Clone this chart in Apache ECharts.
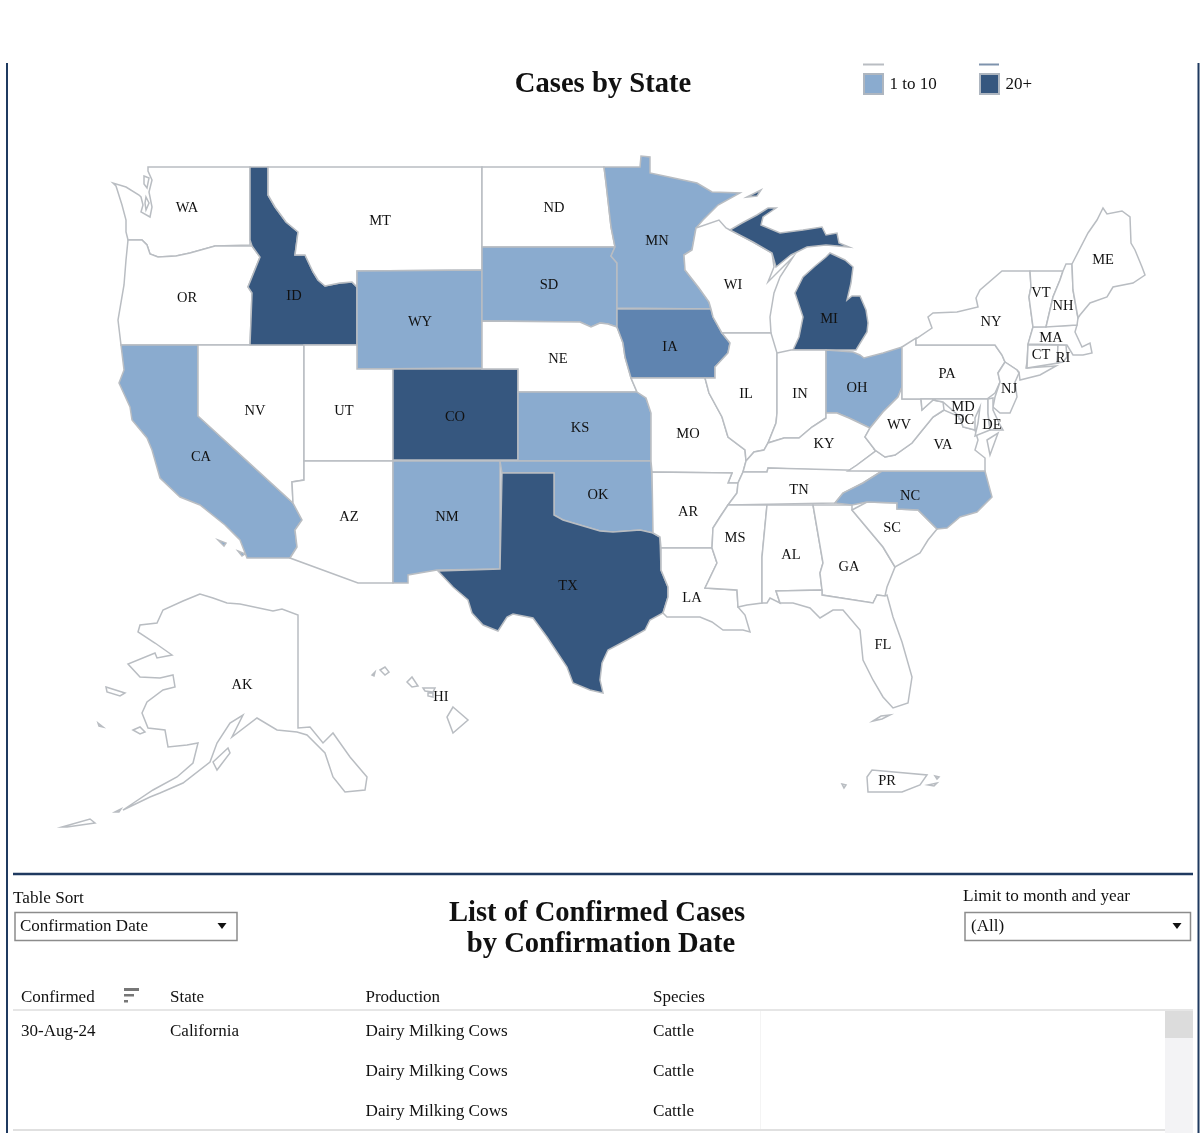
<!DOCTYPE html>
<html>
<head>
<meta charset="utf-8">
<title>Cases by State</title>
<script src="https://cdn.jsdelivr.net/npm/echarts@6/dist/echarts.min.js"></script>
<style>
html,body{margin:0;padding:0;background:#fff}
#main{width:1200px;height:1133px}
</style>
</head>
<body>
<div id="main"></div>
<script>
// band per state: 0 none, 1 "1 to 10", 2 the cropped middle band, 3 "20+"
var stateCodes = ['WA','OR','CA','NV','ID','MT','WY','UT','AZ','CO','NM','ND','SD','NE','KS','OK','TX','MN','IA','MO','AR','LA','WI','IL','MI','IN','OH','KY','TN','MS','AL','GA','FL','SC','NC','VA','WV','PA','NY','NJ','MD','DE','DC','CT','RI','MA','VT','NH','ME','AK','HI','PR'];
var stateBands = [0,0,1,0,3,0,1,0,0,3,1,0,1,0,1,1,3,1,2,0,0,0,0,0,3,0,1,0,0,0,0,0,0,0,1,0,0,0,0,0,0,0,0,0,0,0,0,0,0,0,0,0];
var bandColors = ['#ffffff','#8aabcf','#5f84b0','#36577f'];

var legendLabels = ['1 to 10','20+'];
var legendBands = [1,3];

var tableColumns = ['Confirmed','State','Production','Species'];
var confirmedDates = ['30-Aug-24'];
var confirmedStates = ['California'];
var productionTypes = ['Dairy Milking Cows','Dairy Milking Cows','Dairy Milking Cows'];
var speciesTypes = ['Cattle','Cattle','Cattle'];

// label anchor of each state, in page pixels
var labelAt = {WA:[187,208],MT:[380,221],ND:[554,208],MN:[657,241],WI:[733,285],MI:[829,319],ME:[1103,260],VT:[1041,293],NH:[1063,306],NY:[991,322],MA:[1051,338],CT:[1041,355],RI:[1063,358],PA:[947,374],NJ:[1009,389],MD:[963,407],DC:[964,420],DE:[992,425],OH:[857,388],IN:[800,394],IL:[746,394],IA:[670,347],SD:[549,285],OR:[187,298],ID:[294,296],WY:[420,322],NE:[558,359],NV:[255,411],UT:[344,411],CO:[455,417],CA:[201,457],KS:[580,428],MO:[688,434],KY:[824,444],WV:[899,425],VA:[943,445],TN:[799,490],NC:[910,496],SC:[892,528],AR:[688,512],OK:[598,495],NM:[447,517],AZ:[349,517],TX:[568,586],LA:[692,598],MS:[735,538],AL:[791,555],GA:[849,567],FL:[883,645],AK:[242,685],HI:[441,697],PR:[887,781]};

// state outlines, one string per ring
var outlines = {
WA:['148,167 250,167 250,245 215,246 190,253 176,256 158,257 150,254 147,245 142,240 128,240 126,232 126,220 122,205 116,186 113,183 126,187 139,195 141,197 143,205 141,212 150,217 152,207 149,192 152,180 148,171','144,176 149,178 147,188 144,184','146,197 149,203 146,210 145,203'],
OR:['128,240 142,240 147,245 150,254 158,257 176,256 190,253 215,246 252,246 260,257 248,287 252,293 250,345 121,345 118,320 124,285 126,260'],
CA:['121,345 198,345 198,416 293,503 302,520 295,530 297,547 290,558 247,558 240,540 225,525 200,505 180,497 160,478 152,450 147,438 132,420 130,407 119,383 124,370','218,540 226,543 224,546','238,551 245,554 242,556'],
NV:['198,345 304,345 304,480 292,482 293,503 198,416'],
ID:['250,167 268,167 268,195 275,207 286,222 298,232 295,255 305,255 313,272 318,280 325,286 340,283 352,282 357,287 357,345 250,345 252,293 248,287 260,257 252,246 250,240'],
MT:['268,167 482,167 482,270 357,271 357,287 352,282 340,283 325,286 318,280 313,272 305,255 295,255 298,232 286,222 275,207 268,195'],
WY:['357,271 482,270 482,368 357,369'],
UT:['304,345 357,345 357,369 393,369 393,461 304,461'],
AZ:['304,461 393,461 393,583 358,583 290,558 297,547 295,530 302,520 293,503 292,482 304,480'],
CO:['393,369 518,369 518,460 393,460'],
NM:['393,461 500,461 500,569 437,570 408,575 408,583 393,583'],
ND:['482,167 604,167 606,183 611,227 615,247 482,247'],
SD:['482,247 615,247 611,256 617,263 617,327 608,324 600,323 591,327 580,322 482,321'],
NE:['482,321 580,322 591,327 600,323 608,324 617,327 623,343 625,357 631,378 637,392 518,392 518,369 482,369'],
KS:['518,392 637,392 646,398 651,413 651,461 518,461'],
OK:['500,461 651,461 653,500 653,533 640,530 627,531 613,532 600,531 590,528 573,523 563,520 554,515 554,473 502,473'],
TX:['502,473 554,473 554,515 563,520 573,523 590,528 600,531 613,532 627,531 640,530 653,533 660,537 661,570 668,587 668,597 663,613 650,620 645,630 627,640 608,650 602,663 600,680 603,693 590,690 573,683 567,667 547,637 533,618 513,614 507,617 498,631 483,625 472,613 468,600 453,587 438,571 500,569'],
MN:['604,167 640,167 641,156 650,157 650,173 669,177 697,183 712,192 740,193 718,205 703,220 696,228 692,250 684,255 685,270 699,288 709,302 711,309 617,308 617,263 611,256 615,247 611,227 606,183'],
IA:['617,309 711,309 713,317 722,333 730,343 728,353 715,367 715,378 705,378 631,378 625,357 623,343 617,327'],
MO:['631,378 705,378 709,393 722,417 728,437 745,450 746,461 743,472 738,483 728,483 732,473 652,472 651,461 651,413 646,398 637,392'],
AR:['652,472 732,473 728,483 738,483 737,493 728,505 720,517 713,528 712,548 661,548 660,537 653,533'],
LA:['661,548 712,548 717,563 705,588 737,590 738,607 745,615 750,632 743,630 723,630 712,622 700,617 667,617 663,613 668,597 668,587 661,570'],
WI:['696,228 719,220 726,228 730,230 753,242 772,253 774,267 768,282 793,257 780,277 774,293 770,317 771,333 724,333 722,333 713,317 711,309 709,302 699,288 685,270 684,255 692,250'],
IL:['724,333 771,333 777,353 777,413 776,423 768,443 764,450 754,452 746,461 745,450 728,437 722,417 709,393 705,378 715,378 715,367 728,353 730,343 722,333'],
MI:['793,350 856,350 867,332 868,323 866,310 860,296 852,296 847,300 851,283 853,267 845,260 830,253 826,257 814,267 803,277 795,293 803,317 799,337','730,230 742,223 757,215 768,208 776,208 763,217 761,225 780,233 803,230 822,227 826,235 837,233 839,243 849,247 826,245 807,247 791,255 776,267 772,253 753,242','747,197 761,190 757,196'],
IN:['777,353 791,350 826,350 826,418 812,427 799,438 784,438 768,443 776,423 777,413'],
OH:['826,350 853,352 860,355 864,358 883,353 902,347 902,387 898,397 883,412 870,428 849,418 837,413 826,413'],
KY:['743,472 746,461 754,452 764,450 768,443 784,438 799,438 812,427 826,418 826,413 837,413 849,418 870,428 865,437 875,450 877,450 857,465 848,471 768,468 767,472'],
TN:['743,472 767,472 768,468 882,471 863,483 843,493 835,503 728,505 737,493 738,483'],
MS:['728,505 767,505 762,557 762,603 747,605 738,607 737,590 705,588 717,563 712,548 713,528 720,517'],
AL:['767,505 813,505 823,563 820,573 822,590 776,591 780,603 770,598 767,603 762,603 762,557'],
GA:['813,505 852,505 852,510 883,547 895,567 887,587 885,596 877,595 873,603 822,595 822,590 820,573 823,563'],
FL:['776,591 822,590 822,595 873,603 877,595 885,596 887,595 893,617 902,642 912,677 908,703 893,708 883,697 873,680 863,660 860,630 843,610 833,610 820,618 810,608 793,603 780,603','873,721 881,716 890,715 882,719'],
SC:['852,510 867,502 897,503 897,509 918,510 937,529 928,540 920,553 895,567 883,547'],
NC:['882,471 985,471 992,497 977,512 960,517 947,528 937,529 918,510 897,509 897,503 867,502 852,505 835,503 843,493 863,483'],
VA:['848,471 857,465 877,450 875,450 885,457 895,455 912,443 920,433 933,417 944,410 960,417 963,427 975,430 978,440 975,450 985,458 985,471','987,440 998,433 990,455'],
WV:['902,387 902,399 921,399 922,410 933,400 943,402 944,410 933,417 920,433 912,443 895,455 885,457 875,450 865,437 870,428 883,412 898,397'],
PA:['902,347 916,338 916,345 995,345 1002,355 1005,362 998,373 1000,382 995,393 987,399 902,399'],
NY:['916,345 916,339 932,328 928,317 933,313 957,312 978,307 976,298 980,290 1002,271 1030,271 1031,287 1029,297 1033,327 1028,345 1027,362 1026,368 1056,366 1040,375 1020,380 1019,372 1017,370 1005,362 1002,355 995,345'],
NJ:['1005,362 1017,370 1019,373 1015,382 1017,397 1010,413 1000,413 993,407 995,397 1000,382 998,373'],
MD:['921,399 988,399 988,413 990,430 975,436 978,423 980,407 975,418 975,430 963,427 960,417 943,402 933,400 922,410'],
DE:['988,399 993,398 993,410 1000,425 1003,430 990,430 988,413'],
DC:['959,415 963,415 963,419 959,419'],
CT:['1028,345 1058,345 1058,363 1027,368'],
RI:['1058,345 1066,345 1067,357 1063,362 1057,363'],
MA:['1033,327 1077,325 1075,332 1082,347 1090,343 1092,353 1083,355 1073,355 1067,345 1028,344'],
VT:['1030,271 1063,271 1060,280 1053,297 1046,327 1033,327 1029,297 1031,287'],
NH:['1063,271 1066,264 1072,264 1073,290 1078,318 1077,325 1046,327 1053,297 1060,280'],
ME:['1072,264 1088,233 1097,220 1103,208 1107,214 1122,211 1130,217 1131,243 1135,250 1142,267 1145,275 1133,283 1113,287 1107,297 1090,303 1080,315 1078,318 1073,290'],
AK:['200,594 183,601 163,610 157,623 140,625 138,632 155,643 172,655 157,658 155,653 128,664 140,677 160,678 173,675 175,687 163,690 147,702 142,713 148,728 165,730 168,747 187,745 198,743 193,763 177,777 153,790 123,810 150,797 160,793 183,783 210,762 217,743 230,723 243,715 232,737 257,718 277,730 297,732 307,735 325,753 333,777 345,792 365,790 367,777 350,757 333,733 323,743 310,727 298,728 298,615 282,609 273,611 240,604 227,603 213,598','62,827 90,819 95,823 67,827','213,762 228,748 230,753 217,770','106,687 125,693 120,696 107,692','133,730 140,727 145,732 140,734','98,723 103,727 99,726','115,812 121,809 119,812'],
HI:['453,707 468,720 453,733 447,717','423,688 435,688 433,692 425,691','407,682 412,677 418,686 412,687','380,670 385,667 389,672 385,675','372,675 375,672 374,676','428,693 433,693 433,697 428,696'],
PR:['867,777 872,770 927,775 920,785 902,792 868,792','928,785 937,783 934,786','935,776 939,777 937,779','842,784 846,785 844,788']
};

function parseRing(str) {
	var pts = str.split(' ').map(function (p) {
		var xy = p.split(',');
		return [+xy[0], -xy[1]];
	});
	pts.push(pts[0]);
	return pts;
}

var features = stateCodes.map(function (code) {
	return {
		type: 'Feature',
		properties: {name: code, cp: [labelAt[code][0], -labelAt[code][1]]},
		geometry: {
			type: 'MultiPolygon',
			coordinates: outlines[code].map(function (r) { return [parseRing(r)]; })
		}
	};
});
echarts.registerMap('states', {type: 'FeatureCollection', features: features});

var serif = '"Liberation Serif", "Times New Roman", serif';
var navy = '#1f3a60';

function txt(x, y, s, size, opts) {
	opts = opts || {};
	return {
		type: 'text', silent: true, z: 10,
		x: x, y: y + 1.5,
		style: {
			text: s, fill: opts.fill || '#111', fontFamily: serif, fontSize: size,
			fontWeight: opts.bold ? 'bold' : 'normal',
			align: opts.align || 'left', verticalAlign: 'middle'
		}
	};
}
function box(x, y, w, h, fill, stroke, lw) {
	return {
		type: 'rect', silent: true, z: 5,
		shape: {x: x, y: y, width: w, height: h},
		style: {fill: fill, stroke: stroke || null, lineWidth: lw || 0}
	};
}
function line(x1, y1, x2, y2, color, lw) {
	return {
		type: 'line', silent: true, z: 6,
		shape: {x1: x1, y1: y1, x2: x2, y2: y2},
		style: {stroke: color, lineWidth: lw}
	};
}
function arrow(cx, cy) {
	return {
		type: 'polygon', silent: true, z: 10,
		shape: {points: [[cx - 4.5, cy - 3], [cx + 4.5, cy - 3], [cx, cy + 3]]},
		style: {fill: '#111'}
	};
}

var graphics = [
	line(7, 63, 7, 1133, navy, 2),
	line(1198.5, 63, 1198.5, 1133, navy, 2),
	line(13, 874, 1193, 874, navy, 2.5),
	txt(603, 83, 'Cases by State', 28.6, {bold: true, align: 'center'}),
	txt(597, 912.5, 'List of Confirmed Cases', 28.6, {bold: true, align: 'center'}),
	txt(601, 943.5, 'by Confirmation Date', 28.6, {bold: true, align: 'center'}),
	// cropped legend row above the visible one
	box(863, 63.5, 21, 2, '#b9bdc2'),
	box(979, 63.5, 20, 2, '#7e93ad'),
	// dropdowns
	txt(13, 897, 'Table Sort', 17.2),
	box(15, 912.5, 222, 28, '#fff', '#8c8c8c', 1.5),
	txt(20, 925, 'Confirmation Date', 17),
	arrow(222, 926),
	txt(963, 894.5, 'Limit to month and year', 17.2),
	box(965, 912.5, 225.5, 28, '#fff', '#8c8c8c', 1.5),
	txt(971, 925, '(All)', 17),
	arrow(1177, 926),
	// table frame and scrollbar
	line(13, 1010, 1193, 1010, '#e6e6e6', 2),
	line(13, 1130, 1165, 1130, '#d6d6d6', 1.5),
	line(760.5, 1011, 760.5, 1129, '#f4f4f4', 1),
	box(1165, 1011, 28, 122, '#f3f3f5'),
	box(1165, 1011, 28, 27, '#dcdcdc'),
	// sort icon
	box(124, 988, 15, 3, '#777'),
	box(124, 994, 10, 2.5, '#777'),
	box(124, 1000, 4, 2.5, '#777')
];

var legendX = [863, 979];
legendLabels.forEach(function (label, i) {
	graphics.push(box(legendX[i] + 1, 74, 19, 20, bandColors[legendBands[i]], '#aeb6c0', 2));
	graphics.push(txt(legendX[i] + 26.5, 83.5, label, 17));
});

var columnX = [21, 170, 365.5, 653];
tableColumns.forEach(function (name, i) {
	graphics.push(txt(columnX[i], 996.5, name, 17));
});
confirmedDates.forEach(function (d) { graphics.push(txt(columnX[0], 1030.5, d, 17)); });
confirmedStates.forEach(function (s) { graphics.push(txt(columnX[1], 1030.5, s, 17)); });
var rowY = [1029.5, 1069.5, 1109.5];
productionTypes.forEach(function (p, i) { graphics.push(txt(columnX[2], rowY[i], p, 17.2)); });
speciesTypes.forEach(function (s, i) { graphics.push(txt(columnX[3], rowY[i], s, 17.2)); });

var myChart = echarts.init(document.getElementById('main'));
var option = {
	animation: false,
	backgroundColor: '#fff',
	graphic: graphics,
	series: [{
		type: 'map',
		map: 'states',
		silent: true,
		roam: false,
		aspectScale: 1,
		left: 0, top: 0, width: 1200, height: 1133,
		boundingCoords: [[0, 0], [1200, -1133]],
		itemStyle: {borderColor: '#b9bdc2', borderWidth: 1.5, areaColor: '#fff'},
		emphasis: {disabled: true},
		select: {disabled: true},
		label: {show: true, color: '#111', fontFamily: serif, fontSize: 14.5, formatter: '{b}'},
		data: stateCodes.map(function (code, i) {
			return {name: code, value: stateBands[i], itemStyle: {areaColor: bandColors[stateBands[i]]}};
		})
	}]
};
myChart.setOption(option);
</script>
</body>
</html>
